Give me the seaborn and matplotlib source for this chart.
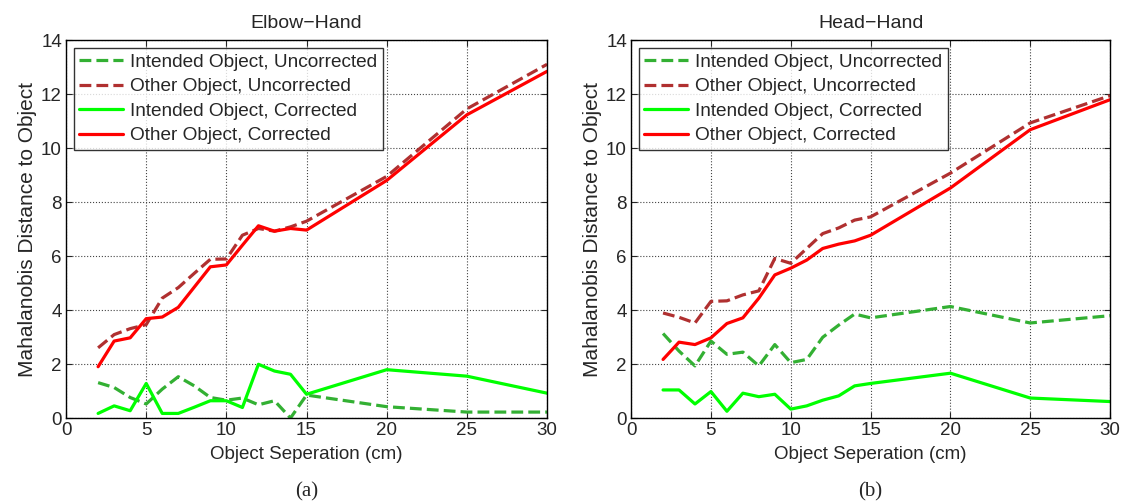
import numpy as np
import pandas as pd
import matplotlib
matplotlib.use('Agg')
import matplotlib.pyplot as plt
import seaborn as sns

# separations (cm)
sep = [2, 3, 4, 5, 6, 7, 8, 9, 10, 11, 12, 13, 14, 15, 20, 25, 30]

# Elbow-Hand
eh_int_unc = [1.31, 1.13, 0.76, 0.52, 1.07, 1.53, 1.19, 0.76, 0.66, 0.74, 0.49, 0.64, 0.0, 0.85, 0.42, 0.22, 0.22]
eh_oth_unc = [2.60, 3.09, 3.31, 3.46, 4.44, 4.83, 5.36, 5.88, 5.89, 6.77, 7.02, 6.92, 7.08, 7.29, 8.95, 11.45, 13.10]
eh_int_cor = [0.17, 0.45, 0.27, 1.28, 0.17, 0.17, 0.40, 0.64, 0.64, 0.39, 1.99, 1.74, 1.62, 0.88, 1.79, 1.55, 0.92]
eh_oth_cor = [1.90, 2.85, 2.97, 3.68, 3.74, 4.10, 4.85, 5.60, 5.67, 6.40, 7.12, 6.92, 7.02, 6.96, 8.80, 11.23, 12.84]

# Head-Hand
hh_int_unc = [3.13, 2.48, 1.93, 2.85, 2.36, 2.44, 1.93, 2.72, 2.05, 2.17, 2.99, 3.44, 3.85, 3.71, 4.13, 3.52, 3.79]
hh_oth_unc = [3.89, 3.73, 3.52, 4.32, 4.34, 4.56, 4.71, 5.91, 5.73, 6.28, 6.83, 7.04, 7.33, 7.45, 9.07, 10.93, 11.94]
hh_int_cor = [1.04, 1.04, 0.52, 0.98, 0.25, 0.92, 0.79, 0.88, 0.33, 0.45, 0.66, 0.82, 1.19, 1.28, 1.66, 0.74, 0.61]
hh_oth_cor = [2.17, 2.81, 2.72, 2.97, 3.50, 3.71, 4.44, 5.30, 5.55, 5.85, 6.28, 6.44, 6.56, 6.77, 8.52, 10.68, 11.79]

labels = ['Intended Object, Uncorrected', 'Other Object, Uncorrected',
          'Intended Object, Corrected', 'Other Object, Corrected']
colors = ['#33b033', '#b03030', '#00ff00', '#ff0000']
styles = ['--', '--', '-', '-']

sns.set_style('ticks')
plt.rcParams['font.family'] = ['Liberation Sans', 'DejaVu Sans']

fig = plt.figure(figsize=(11.27, 5.04), dpi=100)
ax1 = fig.add_axes([0.0586, 0.1706, 0.4268, 0.75])
ax2 = fig.add_axes([0.560, 0.1706, 0.425, 0.75])

panels = [
    (ax1, 'Elbow\u2212Hand', [eh_int_unc, eh_oth_unc, eh_int_cor, eh_oth_cor], '(a)'),
    (ax2, 'Head\u2212Hand', [hh_int_unc, hh_oth_unc, hh_int_cor, hh_oth_cor], '(b)'),
]

for ax, title, series, cap in panels:
    for vals, lab, col, ls in zip(series, labels, colors, styles):
        df = pd.DataFrame({'sep': sep, 'dist': vals})
        sns.lineplot(data=df, x='sep', y='dist', ax=ax, color=col, linestyle=ls,
                     linewidth=2.3, label=lab)
    ax.set_xlim(0, 30)
    ax.set_ylim(0, 14)
    ax.set_xticks(np.arange(0, 31, 5))
    ax.set_yticks(np.arange(0, 15, 2))
    ax.tick_params(direction='in', labelsize=13.5, length=4, pad=3,
                   top=True, right=True)
    ax.grid(True, linestyle=':', color='#444444', linewidth=0.8)
    for sp in ax.spines.values():
        sp.set_linewidth(1.0)
        sp.set_color('black')
    ax.set_title(title, fontsize=14, pad=9)
    ax.set_xlabel('Object Seperation (cm)', fontsize=13.5, labelpad=5)
    ax.set_ylabel('Mahalanobis Distance to Object', fontsize=15, labelpad=3)
    leg = ax.legend(loc='upper left', fontsize=13.7, frameon=True, fancybox=False,
                    handlelength=2.3, handletextpad=0.37, labelspacing=0.38,
                    borderpad=0.3, borderaxespad=0.4)
    leg.get_frame().set_edgecolor('black')
    leg.get_frame().set_linewidth(1.0)
    pos = ax.get_position()
    fig.text(pos.x0 + pos.width / 2, 0.025, cap, ha='center', va='center',
             fontsize=15, family=['Liberation Serif'])

fig.savefig('out.png', dpi=100)
